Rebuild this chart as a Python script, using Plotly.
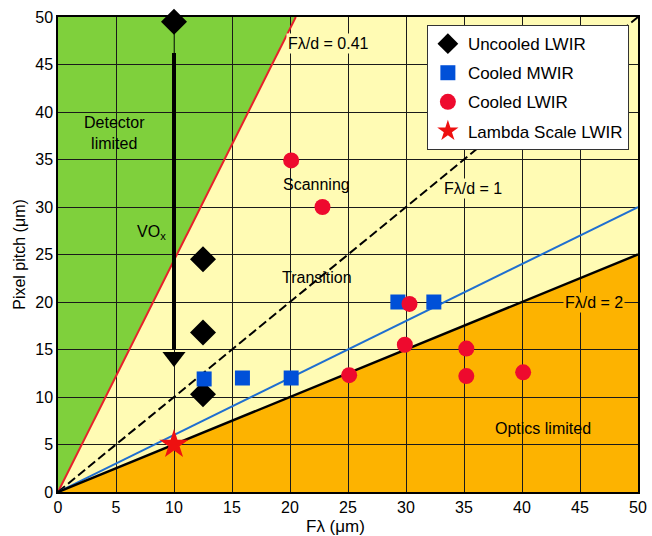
import plotly.graph_objects as go

# ---- data ----
uncooled_x = [10, 12.5, 12.5, 12.5]
uncooled_y = [49.5, 24.5, 16.8, 10.3]

mwir_x = [12.6, 15.9, 20.1, 29.3, 32.4]
mwir_y = [11.9, 12.0, 12.0, 20.0, 20.0]

lwir_x = [20.1, 22.8, 30.3, 25.1, 29.9, 35.2, 35.2, 40.1]
lwir_y = [34.9, 30.0, 19.8, 12.3, 15.5, 15.1, 12.2, 12.6]

star_x = [10]
star_y = [5]

# F*lambda/d ratios of the guide lines
ratio_detector = 0.41
ratio_transition = 1.0
ratio_mwir = 1.667
ratio_optics = 2.0

arrow_x = [10, 10]
arrow_y = [46.2, 15.0]
arrow_tip_y = [14.2]
link_y = [49.5, 46.2]

XMAX, YMAX = 50, 50

GREEN = "#7fd03c"
YELLOW = "#fffbb4"
ORANGE = "#fdb300"
FONT = "Liberation Sans, Arial, sans-serif"


def line_pts(ratio):
    # pitch = F*lambda / ratio, clipped to the plot box
    x_end = min(XMAX, YMAX * ratio)
    return [0, x_end], [0, x_end / ratio]


fig = go.Figure()

# regions (drawn as shapes under the gridlines)
xd, yd = line_pts(ratio_detector)
xo, yo = line_pts(ratio_optics)
shapes = [
    dict(type="path", layer="below", line=dict(width=0), fillcolor=GREEN,
         path=f"M 0 0 L {xd[1]} {yd[1]} L 0 {YMAX} Z"),
    dict(type="path", layer="below", line=dict(width=0), fillcolor=YELLOW,
         path=f"M 0 0 L {xd[1]} {yd[1]} L {XMAX} {YMAX} L {xo[1]} {yo[1]} Z"),
    dict(type="path", layer="below", line=dict(width=0), fillcolor=ORANGE,
         path=f"M 0 0 L {xo[1]} {yo[1]} L {XMAX} 0 Z"),
]

# guide lines
for ratio, color, dash, w in [
    (ratio_detector, "#e8202a", "solid", 2),
    (ratio_transition, "black", "9px,4px", 2),
    (ratio_mwir, "#1f6fd0", "solid", 2),
    (ratio_optics, "black", "solid", 2.5),
]:
    lx, ly = line_pts(ratio)
    fig.add_trace(go.Scatter(x=lx, y=ly, mode="lines", showlegend=False,
                             hoverinfo="skip",
                             line=dict(color=color, dash=dash, width=w)))

# VOx arrow
fig.add_trace(go.Scatter(x=arrow_x, y=link_y, mode="lines", showlegend=False,
                         line=dict(color="#2e5e10", width=1)))
fig.add_trace(go.Scatter(x=arrow_x, y=arrow_y, mode="lines", showlegend=False,
                         line=dict(color="black", width=4)))
fig.add_trace(go.Scatter(x=[arrow_x[0]], y=arrow_tip_y, mode="markers",
                         showlegend=False,
                         marker=dict(symbol="triangle-down", size=20,
                                     color="black")))

# data series
fig.add_trace(go.Scatter(x=uncooled_x, y=uncooled_y, mode="markers",
                         name="Uncooled LWIR", legendgroup="a",
                         cliponaxis=False,
                         marker=dict(symbol="diamond", size=20, color="black")))
fig.add_trace(go.Scatter(x=mwir_x, y=mwir_y, mode="markers",
                         name="Cooled MWIR", legendgroup="b",
                         marker=dict(symbol="square", size=15, color="#0050d8")))
fig.add_trace(go.Scatter(x=lwir_x, y=lwir_y, mode="markers",
                         name="Cooled LWIR", legendgroup="c",
                         marker=dict(symbol="circle", size=16, color="#ee0a2e")))
fig.add_trace(go.Scatter(x=star_x, y=star_y, mode="markers",
                         name="Lambda Scale LWIR", legendgroup="d",
                         marker=dict(symbol="star", size=22, color="#ee1010")))

tf = dict(family=FONT, size=16, color="black")
annotations = [
    dict(x=4.9, y=37.8, text="Detector<br>limited", showarrow=False, font=tf),
    dict(x=23.3, y=47.2, text="F\u03bb/d = 0.41", showarrow=False, font=tf,
         bgcolor=YELLOW),
    dict(x=22.3, y=32.4, text="Scanning", showarrow=False, font=tf),
    dict(x=22.3, y=22.6, text="Transition", showarrow=False, font=tf),
    dict(x=8.1, y=27.3, text="VO<sub>x</sub>", showarrow=False, font=tf),
    dict(x=35.8, y=32.0, text="F\u03bb/d = 1", showarrow=False, font=tf,
         bgcolor=YELLOW),
    dict(x=46.2, y=20.0, text="F\u03bb/d = 2", showarrow=False, font=tf,
         bgcolor=ORANGE),
    dict(x=41.8, y=6.7, text="Optics limited", showarrow=False, font=tf),
    # x-axis title
    dict(x=0.478, y=-0.072, xref="paper", yref="paper", showarrow=False,
         text="F\u03bb (\u03bcm)", font=dict(family=FONT, size=17,
                                             color="black"),
         xanchor="center", yanchor="middle"),
]

axis_common = dict(range=[0, 50], dtick=5, tick0=0, showgrid=True,
                   gridcolor="#1a1a1a", gridwidth=1, zeroline=False,
                   showline=True, mirror=True, linecolor="black", linewidth=1.5,
                   ticks="", tickfont=tf, fixedrange=True, automargin=False)

fig.update_layout(
    width=652, height=536,
    margin=dict(l=58, r=14, t=17, b=44),
    paper_bgcolor="white", plot_bgcolor="white",
    shapes=shapes, annotations=annotations,
    font=tf,
    xaxis=dict(axis_common),
    yaxis=dict(axis_common, title=dict(text="Pixel pitch (\u03bcm)", font=tf,
                                        standoff=6)),
    legend=dict(x=0.636, y=0.983, xanchor="left", yanchor="top",
                bgcolor="white", bordercolor="#333", borderwidth=1,
                font=dict(family=FONT, size=17, color="black"),
                tracegroupgap=4, itemsizing="trace"),
    showlegend=True,
)

fig.write_html(
    "out.html",
    config={"displayModeBar": False},
    post_script="document.body.style.margin='0';document.body.style.overflow='hidden';",
)
